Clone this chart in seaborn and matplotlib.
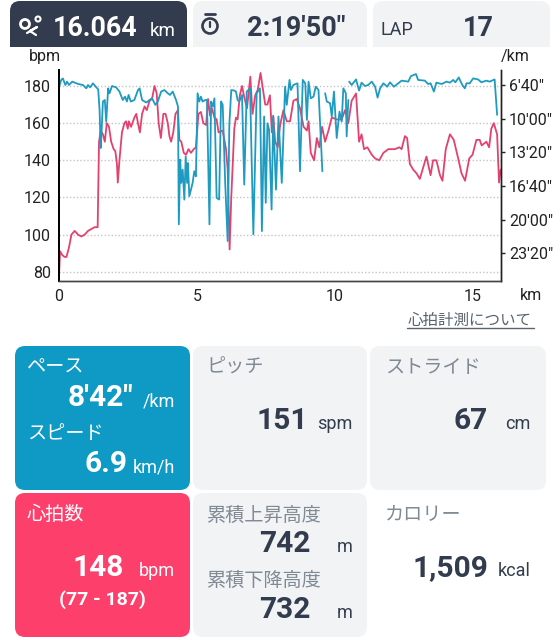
import numpy as np
import pandas as pd
import matplotlib
matplotlib.use("Agg")
import matplotlib.pyplot as plt
import seaborn as sns
from matplotlib.patches import FancyBboxPatch, Circle, Rectangle

BLUE = "#0e9ac5"
RED = "#fc3f6b"
DARK = "#333c4e"
GRAY = "#f1f3f5"
LABEL = "#7f8a94"
FONT = ["Roboto", "Noto Sans CJK JP", "DejaVu Sans"]

# heart rate, km / bpm
hr_km = [0.00, 0.04, 0.12, 0.20, 0.27, 0.36, 0.45, 0.57, 0.69, 0.81, 0.93, 1.05, 1.17, 1.29, 1.40,
         1.45, 1.51, 1.59, 1.66, 1.73, 1.81, 1.89, 1.98, 2.04, 2.10, 2.13, 2.19, 2.28, 2.37, 2.43,
         2.49, 2.53, 2.61, 2.73, 2.80, 2.86, 2.93, 3.01, 3.10, 3.18, 3.28, 3.37, 3.46, 3.54, 3.61,
         3.69, 3.78, 3.86, 3.94, 4.00, 4.06, 4.14, 4.22, 4.31, 4.36, 4.43, 4.52, 4.60, 4.69, 4.78,
         4.88, 4.96, 5.05, 5.14, 5.23, 5.33, 5.40, 5.47, 5.54, 5.63, 5.71, 5.78, 5.93, 6.05, 6.11,
         6.18, 6.24, 6.35, 6.41, 6.47, 6.55, 6.63, 6.71, 6.81, 6.93, 7.01, 7.11, 7.20, 7.30, 7.37,
         7.47, 7.55, 7.64, 7.71, 7.76, 7.83, 7.92, 8.01, 8.13, 8.25, 8.37, 8.49, 8.61, 8.73, 8.86,
         8.98, 9.04, 9.12, 9.24, 9.34, 9.43, 9.53, 9.64, 9.76, 9.88, 10.06, 10.24, 10.36, 10.48,
         10.60, 10.76, 10.87, 10.96, 11.05, 11.17, 11.33, 11.45, 11.60, 11.75, 11.93, 12.17, 12.33,
         12.41, 12.53, 12.61, 12.71, 12.83, 12.95, 13.07, 13.19, 13.31, 13.46, 13.55, 13.67, 13.80,
         13.89, 14.01, 14.16, 14.30, 14.46, 14.58, 14.71, 14.86, 14.98, 15.12, 15.24, 15.31, 15.48,
         15.58, 15.66, 15.75, 15.87, 15.94, 16.00]
hr_bpm = [78, 91, 89, 88, 88, 93, 100, 102, 100, 99, 100, 102, 103, 104, 104,
          150, 156, 154, 150, 160, 158, 150, 146, 145, 138, 128, 140, 155, 160, 161,
          157, 161, 158, 163, 165, 160, 155, 165, 169, 167, 172, 173, 180, 176, 160,
          152, 165, 165, 160, 153, 150, 155, 165, 167, 151, 150, 144, 143, 146, 144,
          146, 147, 165, 166, 160, 159, 173, 164, 168, 163, 162, 155, 156, 146, 135,
          92, 120, 157, 163, 162, 175, 180, 174, 168, 185, 165, 175, 178, 187, 180,
          170, 170, 175, 155, 164, 150, 147, 159, 167, 161, 161, 172, 173, 168, 158,
          156, 161, 144, 140, 152, 147, 158, 150, 156, 163, 162, 162, 167, 160,
          172, 176, 150, 154, 146, 147, 143, 141, 140, 144, 146, 146, 147,
          146, 153, 152, 138, 135, 133, 130, 136, 142, 132, 140, 140, 132,
          129, 146, 154, 151, 141, 133, 129, 141, 143, 151, 151, 148, 150,
          147, 157, 160, 154, 128, 135]

# pace, km / seconds per km
pace_km = [0.00, 0.08, 0.14, 0.23, 0.29, 0.36, 0.48, 0.63, 0.75, 0.87, 0.99, 1.05, 1.13, 1.23, 1.33,
           1.42, 1.47, 1.51, 1.54, 1.59, 1.66, 1.71, 1.78, 1.83, 1.92, 2.07, 2.19, 2.31, 2.39, 2.46,
           2.52, 2.60, 2.73, 2.86, 2.92, 3.01, 3.16, 3.28, 3.37, 3.49, 3.58, 3.70, 3.82, 3.94, 4.02,
           4.12, 4.24, 4.31, 4.34, 4.39, 4.43, 4.48, 4.54, 4.59, 4.64, 4.67, 4.72, 4.78, 4.84, 4.90,
           4.96, 5.02, 5.08, 5.14, 5.20, 5.30, 5.36, 5.45, 5.51, 5.57, 5.63, 5.71, 5.80, 5.87, 5.93,
           6.02, 6.11, 6.17, 6.24, 6.35, 6.41, 6.47, 6.53, 6.63, 6.71, 6.80, 6.92, 7.04, 7.16, 7.28,
           7.35, 7.43, 7.49, 7.55, 7.61, 7.70, 7.76, 7.86, 7.95, 8.07, 8.19, 8.25, 8.35, 8.40, 8.49,
           8.64, 8.73, 8.83, 8.92, 8.98, 9.04, 9.12, 9.22, 9.30, 9.40, 9.54, 9.64, 9.70, 9.82, 9.88,
           9.96, 10.06, 10.16, 10.24, 10.30, 10.39, 10.42, 10.48, 10.51, 10.60, 10.76, 10.87, 10.96,
           11.08, 11.20, 11.33, 11.45, 11.54, 11.63, 11.75, 11.89, 11.99, 12.13, 12.29, 12.41, 12.65,
           12.75, 12.93, 13.01, 13.25, 13.37, 13.46, 13.58, 13.67, 13.86, 14.04, 14.16, 14.28, 14.36,
           14.48, 14.61, 14.70, 14.76, 14.88, 15.00, 15.18, 15.30, 15.48, 15.60, 15.78, 15.87]
pace_sec = [414, 370, 361, 400, 380, 400, 380, 390, 396, 400, 420, 400, 414, 390, 410,
            426, 548, 774, 686, 498, 489, 617, 420, 449, 406, 414, 439, 489, 469, 498,
            459, 498, 489, 430, 420, 489, 504, 489, 479, 518, 498, 439, 430, 449, 459,
            439, 489, 528, 1227, 843, 981, 902, 1080, 824, 981, 863, 1060, 1021, 981, 912,
            942, 449, 498, 469, 498, 489, 489, 1227, 498, 528, 479, 1070, 1080, 498, 518,
            981, 1326, 636, 430, 433, 439, 489, 498, 459, 991, 439, 420, 1286, 449, 420,
            1267, 587, 1099, 627, 666, 1139, 587, 1021, 587, 981, 410, 518, 370, 430, 400,
            390, 912, 370, 390, 607, 380, 479, 469, 410, 430, 912, 449, 498, 508, 587,
            439, 715, 558, 617, 420, 449, 705, 489, 380, 400, 367, 433, 386,
            406, 400, 380, 410, 475, 420, 390, 410, 384, 410, 390, 374, 380,
            347, 335, 370, 374, 394, 390, 439, 386, 394, 380, 386, 370, 384,
            355, 400, 420, 390, 390, 361, 367, 384, 374, 380, 367, 577]
pace_gaps = [9.60, 10.50]

bpm_ticks = [80, 100, 120, 140, 160, 180]
pace_ticks = [400, 600, 800, 1000, 1200, 1400]
pace_labels = ["6'40\"", "10'00\"", "13'20\"", "16'40\"", "20'00\"", "23'20\""]
km_ticks = [0, 5, 10, 15]

sns.set_theme(style="white")
plt.rcParams["font.family"] = FONT

fig = plt.figure(figsize=(5.6, 6.4), dpi=100, facecolor="white")

# whole-figure layer in pixels, for the cards and their text
bg = fig.add_axes([0, 0, 1, 1])
bg.set_xlim(0, 560)
bg.set_ylim(640, 0)
bg.axis("off")


def card(x0, y0, x1, y1, color, r=10):
    bg.add_patch(FancyBboxPatch((x0 + r, y0 + r), x1 - x0 - 2 * r, y1 - y0 - 2 * r,
                                boxstyle=f"round,pad={r},rounding_size={r}",
                                fc=color, ec="none"))


def label(x, y, s, color=LABEL, size=13.8):
    bg.text(x - 1, y + 2, s, color=color, fontsize=size, ha="left", va="center")


def value(x, y, s, color=DARK, size=21.5):
    bg.text(x + 1, y, s, color=color, fontsize=size, fontweight="bold", ha="right", va="baseline")


def unit(x, y, s, color=DARK, size=13):
    bg.text(x, y, s, color=color, fontsize=size, ha="right", va="baseline")


# top strip
card(10, 1, 187, 60, DARK)
card(193, 1, 367, 60, GRAY)
card(373, 1, 550, 60, GRAY)
bg.add_patch(Rectangle((0, 47), 560, 16, fc="white", ec="none"))

bg.add_patch(Circle((25, 24), 4.5, fc="none", ec="white", lw=2))
bg.add_patch(Circle((38, 19), 2.5, fc="none", ec="white", lw=1.5))
bg.plot([27, 37, 30, 36], [33, 27, 31, 35], color="white", lw=1.6)
bg.add_patch(Circle((210, 26), 7.5, fc="none", ec=DARK, lw=1.9))
bg.plot([205, 215], [14, 14], color=DARK, lw=2)
bg.plot([210, 210], [22, 27], color=DARK, lw=1.6)

value(136, 36, "16.064", color="white", size=19.3)
unit(176, 36, "km", color="white", size=13.5)
value(344, 36, "2:19'50\"", size=19.5)
bg.text(380, 35, "LAP", color=DARK, fontsize=13, ha="left", va="baseline")
value(493, 36, "17", size=19.5)

# cards
card(15, 346, 190, 490, BLUE)
card(193, 346, 367, 490, GRAY)
card(370, 346, 546, 490, GRAY)
card(15, 493, 190, 637, RED)
card(193, 493, 367, 637, GRAY)

label(28, 366, "ペース", color="white")
value(132, 406, "8'42\"", color="white")
unit(175, 406, "/km", color="white")
label(28, 432, "スピード", color="white")
value(127, 472, "6.9", color="white")
unit(175, 472, "km/h", color="white")

label(207, 366, "ピッチ")
value(307, 429, "151")
unit(353, 429, "spm")
label(386, 366, "ストライド")
value(487, 429, "67")
unit(531, 429, "cm")

label(28, 513, "心拍数", color="white")
value(123, 576, "148", color="white")
unit(175, 576, "bpm", color="white")
bg.text(102, 605, "(77 - 187)", color="white", fontsize=14, fontweight="bold", ha="center", va="baseline")

label(207, 514, "累積上昇高度")
value(309, 552, "742")
unit(353, 552, "m")
label(207, 579, "累積下降高度")
value(309, 618, "732")
unit(353, 618, "m")
label(386, 513, "カロリー")
value(487, 576, "1,509")
unit(531, 576, "kcal")

# chart labels around the axes
bg.text(29, 56, "bpm", color="#222222", fontsize=11.5, ha="left", va="center")
bg.text(501, 56, "/km", color="#222222", fontsize=11.5, ha="left", va="center")
bg.text(520, 295, "km", color="#222222", fontsize=11.5, ha="left", va="center")
bg.text(470, 320, "心拍計測について", color="#59636e", fontsize=11.2, ha="center", va="center")
bg.plot([407, 534], [327.5, 327.5], color="#59636e", lw=1)

# chart
ax = fig.add_axes([59 / 560, 1 - 280.7 / 640, (500.7 - 59) / 560, (280.7 - 70) / 640])
ax.patch.set_alpha(0)
hr = pd.DataFrame({"km": hr_km, "bpm": hr_bpm})
sns.lineplot(data=hr, x="km", y="bpm", color="#e3426f", lw=1.3, estimator=None, sort=False, ax=ax)
ax.set_xlim(0, 16.0)
ax.set_ylim(75.2, 188.6)
ax.set_xticks(km_ticks)
ax.set_yticks(bpm_ticks)
ax.set_xlabel("")
ax.set_ylabel("")
ax.yaxis.grid(True, color="#c4c4c4", ls=(0, (1, 1.5)), lw=1)
ax.set_axisbelow(True)
ax.tick_params(axis="both", length=0, labelsize=11.5, labelcolor="#222222", pad=6)

ax2 = ax.twinx()
pace = pd.DataFrame({"km": pace_km, "sec": pace_sec})
pace["seg"] = np.searchsorted(pace_gaps, pace["km"])
sns.lineplot(data=pace, x="km", y="sec", units="seg", color="#1f9bc1", lw=1.3,
             estimator=None, sort=False, ax=ax2)
ax2.set_ylim(1561.5, 311)
ax2.set_yticks(pace_ticks)
ax2.set_yticklabels(pace_labels)
ax2.set_ylabel("")
ax2.tick_params(axis="y", length=3, width=1, color="#222222", labelsize=11.5, labelcolor="#222222", pad=3)

for a in (ax, ax2):
    a.spines["top"].set_visible(False)
    a.spines["left"].set_color("black")
    a.spines["left"].set_linewidth(1.3)
    a.spines["right"].set_color("#222222")
    a.spines["right"].set_linewidth(1)
    a.spines["bottom"].set_color("#444444")
    a.spines["bottom"].set_linewidth(1)

fig.savefig("out.png", dpi=100, facecolor="white")
